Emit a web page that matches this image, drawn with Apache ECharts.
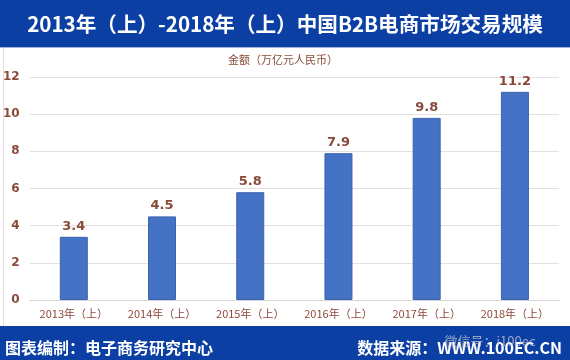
<!DOCTYPE html>
<html>
<head>
<meta charset="utf-8">
<script src="https://cdn.jsdelivr.net/npm/echarts@6/dist/echarts.min.js"></script>
<style>html,body{margin:0;padding:0;background:#fff}#c{width:570px;height:360px}</style>
</head>
<body>
<div id="c"></div>
<script>
const categories = ['2013年（上）','2014年（上）','2015年（上）','2016年（上）','2017年（上）','2018年（上）'];
const values = [3.4, 4.5, 5.8, 7.9, 9.8, 11.2];
const yTicks = [0, 2, 4, 6, 8, 10, 12];
const titleText = '2013年（上）-2018年（上）中国B2B电商市场交易规模';
const unitText = '金额（万亿元人民币）';
const footerLeft = '图表编制：电子商务研究中心';
const footerRight = '数据来源：WWW.100EC.CN';
const watermark = '微信号：i100ec';

const blue = '#0b3fa3';
const brown = '#8a4a3a';
const cjk = "'Noto Sans CJK SC', sans-serif";
const num = "'DejaVu Sans', 'Noto Sans CJK SC', sans-serif";

const chart = echarts.init(document.getElementById('c'), null, {renderer: 'canvas'});
chart.setOption({
  backgroundColor: '#ffffff',
  animation: false,
  grid: {left: 28, right: 11, top: 77, bottom: 60},
  graphic: [
    {type: 'rect', shape: {x: 0, y: 0, width: 570, height: 47}, style: {fill: blue}, z: 0},
    {type: 'rect', shape: {x: 0, y: 47, width: 570, height: 1}, style: {fill: '#9fb6d8'}, z: 0},
    {type: 'rect', shape: {x: 0, y: 326, width: 570, height: 34}, style: {fill: blue}, z: 0},
    {type: 'rect', shape: {x: 3, y: 48, width: 1, height: 278}, style: {fill: '#eadcdc'}, z: 0},
    {type: 'text', x: 285, y: 24, style: {text: titleText, fill: '#ffffff', font: "bold 20.6px 'Noto Sans CJK SC', sans-serif", textAlign: 'center', textVerticalAlign: 'middle'}, z: 5},
    {type: 'text', x: 283, y: 60, style: {text: unitText, fill: brown, font: "11px 'Noto Sans CJK SC', sans-serif", textAlign: 'center', textVerticalAlign: 'middle'}, z: 5},
    {type: 'text', x: 5, y: 348, style: {text: footerLeft, fill: '#ffffff', font: "bold 16px 'Noto Sans CJK SC', sans-serif", textAlign: 'left', textVerticalAlign: 'middle'}, z: 5},
    {type: 'text', x: 562, y: 348, style: {text: footerRight, fill: '#ffffff', font: "bold 16px 'Noto Sans CJK SC', sans-serif", textAlign: 'right', textVerticalAlign: 'middle'}, z: 5},
    {type: 'text', x: 490, y: 341, style: {text: watermark, fill: 'rgba(200,200,210,0.75)', font: "13px 'Noto Sans CJK SC', sans-serif", textAlign: 'center', textVerticalAlign: 'middle'}, z: 6}
  ],
  xAxis: {
    type: 'category',
    data: categories,
    axisLine: {show: true, lineStyle: {color: '#d9d5d5', width: 1}},
    axisTick: {show: false},
    axisLabel: {color: brown, fontSize: 11, fontFamily: cjk, margin: 8, interval: 0}
  },
  yAxis: {
    type: 'value',
    min: yTicks[0],
    max: yTicks[yTicks.length - 1],
    interval: 2,
    axisLine: {show: false},
    axisTick: {show: false},
    axisLabel: {color: brown, fontSize: 12, fontFamily: num, margin: 10, fontWeight: 'bold'},
    splitLine: {lineStyle: {color: '#e6e0e0', width: 1}}
  },
  series: [{
    type: 'bar',
    data: values,
    barWidth: 28,
    itemStyle: {color: '#4472c4', borderColor: '#3a62ad', borderWidth: 1},
    label: {show: true, position: 'top', distance: 4, color: brown, fontSize: 13, fontWeight: 'bold', fontFamily: num}
  }]
});
</script>
</body>
</html>
